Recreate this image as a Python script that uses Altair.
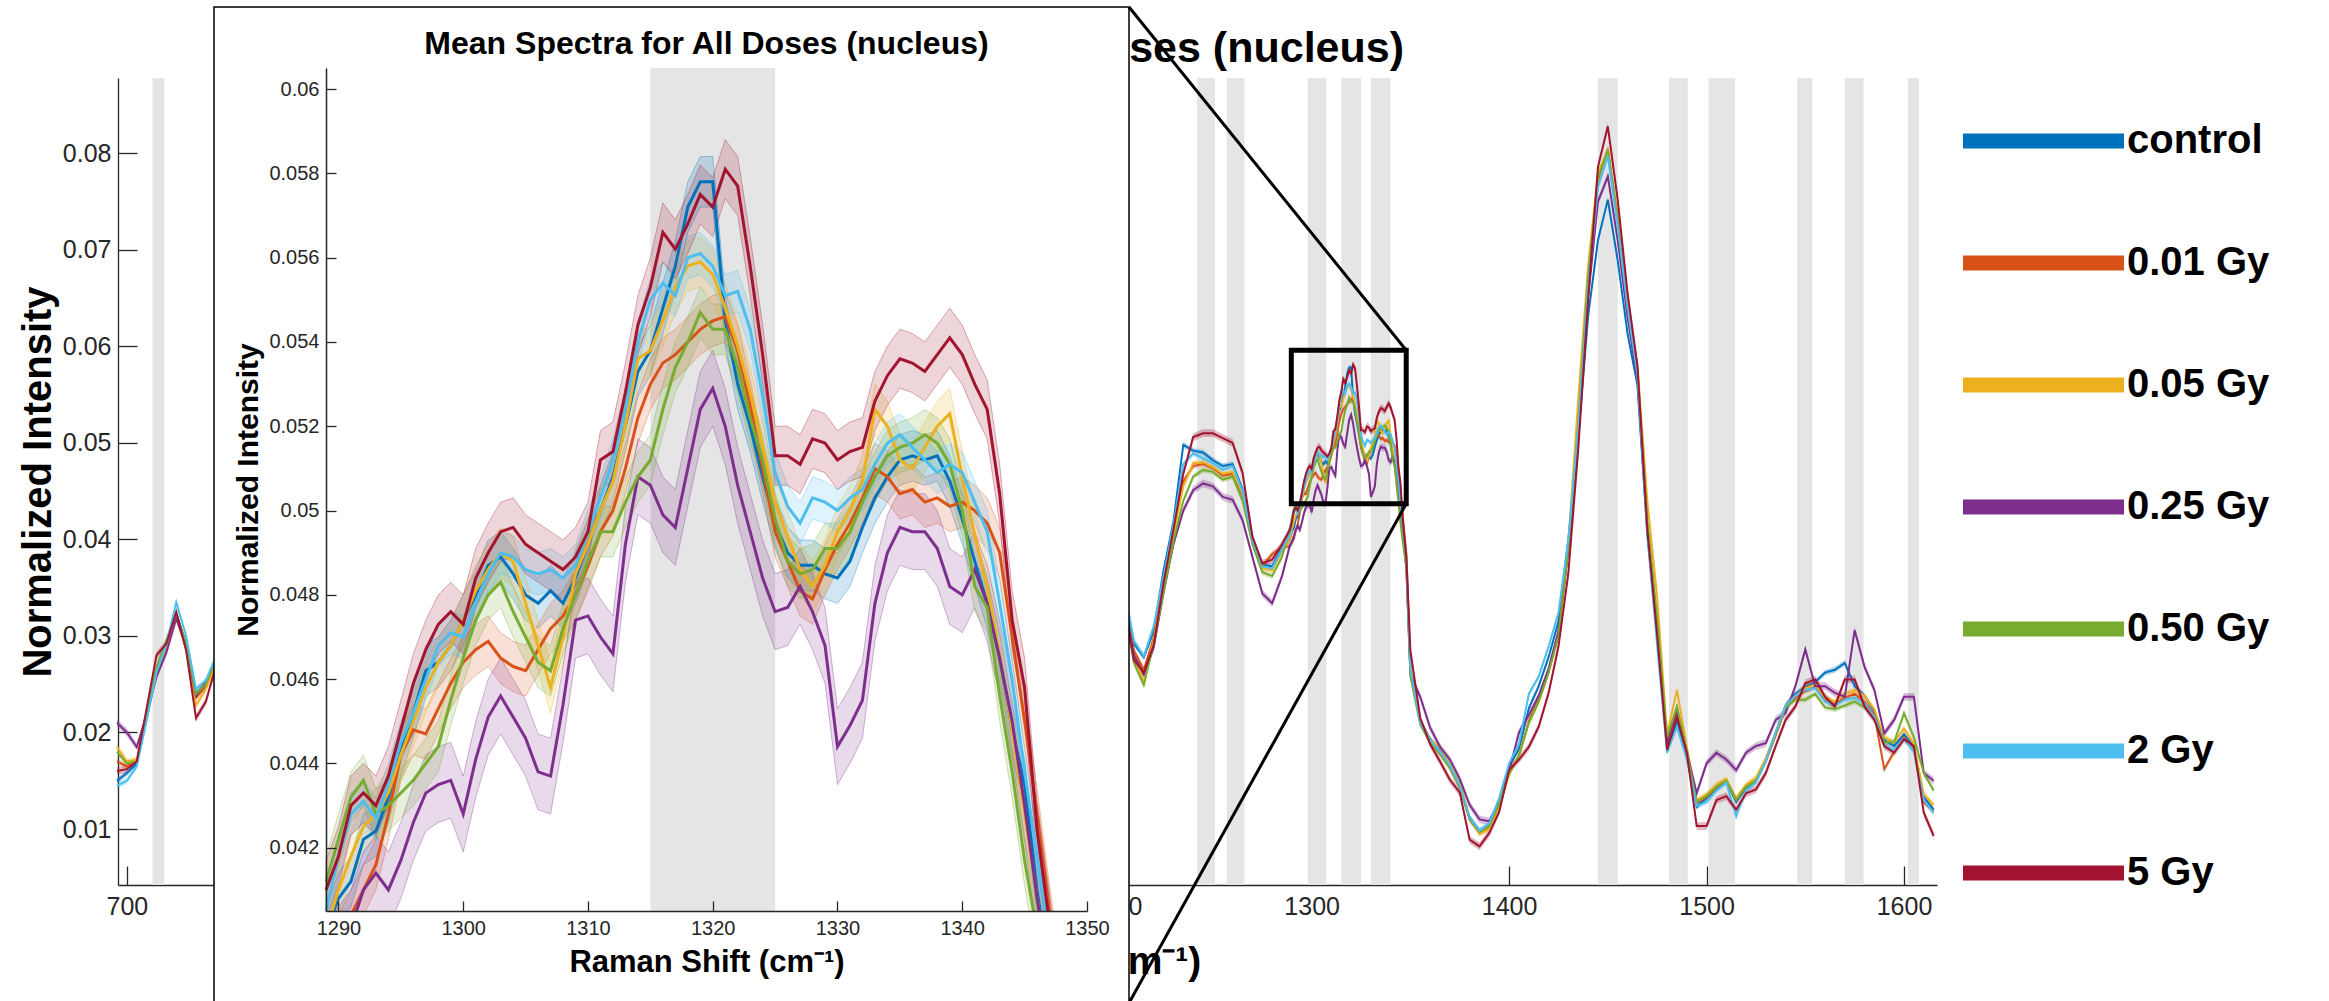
import altair as alt
import pandas as pd

FONT = "Liberation Sans"

SERIES = ["control", "0.01 Gy", "0.05 Gy", "0.25 Gy", "0.50 Gy", "2 Gy", "5 Gy"]
KEYS = ["0", "1", "2", "3", "4", "5", "6"]
COLORS = ["#0072BD", "#D95319", "#EDB120", "#7E2F8E", "#77AC30", "#4DBEEE", "#A2142F"]
MAIN_SPREAD = [0.0003, 0.0003, 0.0003, 0.0004, 0.0003, 0.0003, 0.0004]
INSET_SPREAD = [0.0006, 0.0006, 0.0006, 0.0009, 0.0006, 0.0005, 0.0007]

# Raman shift sampling of each section
X_LEFT = [695, 700, 705, 710, 715, 720, 725, 730, 735, 740, 745]
X_MID = [1205, 1210, 1215, 1220, 1225, 1230, 1235, 1240, 1245, 1250, 1255, 1260, 1265, 1270, 1275, 1280, 1285]
X_ZOOM = list(range(1289, 1349))
X_RIGHT = list(range(1350, 1620, 5))

LEFT = {
    "control": [0.0150, 0.0158, 0.0168, 0.0215, 0.0262, 0.0290, 0.0323, 0.0292, 0.0240, 0.0250, 0.0274],
    "0.01 Gy": [0.0170, 0.0165, 0.0170, 0.0218, 0.0265, 0.0288, 0.0322, 0.0290, 0.0236, 0.0248, 0.0272],
    "0.05 Gy": [0.0185, 0.0170, 0.0172, 0.0220, 0.0262, 0.0288, 0.0320, 0.0286, 0.0228, 0.0245, 0.0270],
    "0.25 Gy": [0.0210, 0.0200, 0.0185, 0.0218, 0.0258, 0.0283, 0.0318, 0.0290, 0.0238, 0.0252, 0.0275],
    "0.50 Gy": [0.0180, 0.0168, 0.0170, 0.0220, 0.0268, 0.0296, 0.0324, 0.0292, 0.0240, 0.0250, 0.0276],
    "2 Gy":    [0.0145, 0.0150, 0.0165, 0.0212, 0.0262, 0.0292, 0.0335, 0.0300, 0.0245, 0.0254, 0.0278],
    "5 Gy":    [0.0160, 0.0162, 0.0170, 0.0225, 0.0280, 0.0292, 0.0325, 0.0285, 0.0215, 0.0232, 0.0268],
}

MID = {
    "control": [0.0348, 0.0292, 0.0278, 0.0305, 0.0368, 0.0418, 0.0498, 0.0492, 0.0490, 0.0482, 0.0476, 0.0478, 0.0452, 0.0402, 0.0374, 0.0372, 0.0392],
    "0.01 Gy": [0.0338, 0.0285, 0.0265, 0.0298, 0.0356, 0.0408, 0.0460, 0.0476, 0.0478, 0.0474, 0.0466, 0.0468, 0.0446, 0.0400, 0.0372, 0.0385, 0.0392],
    "0.05 Gy": [0.0335, 0.0280, 0.0252, 0.0295, 0.0352, 0.0405, 0.0455, 0.0479, 0.0480, 0.0475, 0.0468, 0.0470, 0.0448, 0.0398, 0.0370, 0.0368, 0.0388],
    "0.25 Gy": [0.0338, 0.0280, 0.0260, 0.0288, 0.0345, 0.0395, 0.0430, 0.0451, 0.0458, 0.0455, 0.0444, 0.0441, 0.0420, 0.0382, 0.0344, 0.0334, 0.0362],
    "0.50 Gy": [0.0330, 0.0272, 0.0249, 0.0292, 0.0345, 0.0398, 0.0440, 0.0465, 0.0472, 0.0470, 0.0462, 0.0465, 0.0440, 0.0395, 0.0366, 0.0362, 0.0382],
    "2 Gy":    [0.0350, 0.0295, 0.0279, 0.0310, 0.0362, 0.0415, 0.0478, 0.0489, 0.0484, 0.0479, 0.0472, 0.0476, 0.0450, 0.0400, 0.0372, 0.0370, 0.0390],
    "5 Gy":    [0.0335, 0.0275, 0.0262, 0.0290, 0.0355, 0.0410, 0.0468, 0.0506, 0.0510, 0.0510, 0.0505, 0.0500, 0.0469, 0.0403, 0.0375, 0.0379, 0.0395],
}

ZOOM = {
    "control": [0.0400, 0.0408, 0.0412, 0.0422, 0.0424, 0.0432, 0.0443, 0.0452, 0.0462, 0.0464,
                0.0468, 0.0474, 0.0480, 0.0487, 0.0489, 0.0485, 0.0480, 0.0478, 0.0481, 0.0478,
                0.0484, 0.0492, 0.0500, 0.0508, 0.0520, 0.0533, 0.0538, 0.0548, 0.0558, 0.0572,
                0.0578, 0.0578, 0.0545, 0.0530, 0.0520, 0.0508, 0.0497, 0.0490, 0.0487, 0.0487,
                0.0485, 0.0484, 0.0488, 0.0496, 0.0503, 0.0508, 0.0512, 0.0513, 0.0512, 0.0513,
                0.0507, 0.0498, 0.0488, 0.0478, 0.0465, 0.0448, 0.0435, 0.0410, 0.0390, 0.0372],
    "0.01 Gy": [0.0393, 0.0398, 0.0404, 0.0410, 0.0416, 0.0428, 0.0442, 0.0448, 0.0447, 0.0453,
                0.0459, 0.0464, 0.0467, 0.0469, 0.0465, 0.0463, 0.0462, 0.0467, 0.0472, 0.0475,
                0.0480, 0.0487, 0.0495, 0.0500, 0.0510, 0.0522, 0.0530, 0.0535, 0.0537, 0.0540,
                0.0543, 0.0545, 0.0546, 0.0538, 0.0525, 0.0510, 0.0495, 0.0488, 0.0481, 0.0479,
                0.0486, 0.0492, 0.0497, 0.0503, 0.0510, 0.0508, 0.0504, 0.0505, 0.0502, 0.0503,
                0.0501, 0.0502, 0.0500, 0.0497, 0.0490, 0.0470, 0.0450, 0.0428, 0.0405, 0.0385],
    "0.05 Gy": [0.0400, 0.0410, 0.0418, 0.0425, 0.0428, 0.0433, 0.0442, 0.0450, 0.0458, 0.0464,
                0.0468, 0.0474, 0.0481, 0.0486, 0.0490, 0.0488, 0.0478, 0.0468, 0.0458, 0.0470,
                0.0485, 0.0492, 0.0500, 0.0507, 0.0520, 0.0536, 0.0538, 0.0545, 0.0553, 0.0558,
                0.0559, 0.0556, 0.0548, 0.0539, 0.0528, 0.0515, 0.0502, 0.0494, 0.0486, 0.0482,
                0.0487, 0.0495, 0.0500, 0.0507, 0.0524, 0.0520, 0.0512, 0.0510, 0.0515, 0.0520,
                0.0523, 0.0508, 0.0494, 0.0482, 0.0466, 0.0448, 0.0428, 0.0408, 0.0390, 0.0372],
    "0.25 Gy": [0.0394, 0.0397, 0.0401, 0.0410, 0.0414, 0.0410, 0.0417, 0.0426, 0.0433, 0.0435,
                0.0436, 0.0428, 0.0441, 0.0451, 0.0456, 0.0451, 0.0446, 0.0438, 0.0437, 0.0454,
                0.0474, 0.0475, 0.0470, 0.0466, 0.0492, 0.0508, 0.0506, 0.0499, 0.0496, 0.0510,
                0.0524, 0.0529, 0.0520, 0.0506, 0.0495, 0.0484, 0.0476, 0.0477, 0.0482, 0.0476,
                0.0468, 0.0444, 0.0449, 0.0455, 0.0478, 0.0490, 0.0496, 0.0495, 0.0495, 0.0491,
                0.0482, 0.0480, 0.0486, 0.0478, 0.0465, 0.0450, 0.0430, 0.0408, 0.0390, 0.0370],
    "0.50 Gy": [0.0412, 0.0422, 0.0432, 0.0436, 0.0428, 0.0430, 0.0433, 0.0436, 0.0440, 0.0444,
                0.0455, 0.0465, 0.0474, 0.0480, 0.0483, 0.0476, 0.0470, 0.0464, 0.0462, 0.0472,
                0.0480, 0.0488, 0.0495, 0.0495, 0.0502, 0.0508, 0.0512, 0.0524, 0.0534, 0.0540,
                0.0547, 0.0543, 0.0543, 0.0534, 0.0522, 0.0512, 0.0498, 0.0488, 0.0485, 0.0486,
                0.0491, 0.0491, 0.0495, 0.0502, 0.0508, 0.0513, 0.0515, 0.0516, 0.0518, 0.0516,
                0.0511, 0.0500, 0.0482, 0.0477, 0.0456, 0.0438, 0.0417, 0.0400, 0.0385, 0.0370],
    "2 Gy":    [0.0405, 0.0418, 0.0428, 0.0431, 0.0427, 0.0435, 0.0445, 0.0452, 0.0460, 0.0468,
                0.0471, 0.0470, 0.0478, 0.0485, 0.0490, 0.0489, 0.0486, 0.0485, 0.0486, 0.0484,
                0.0487, 0.0495, 0.0503, 0.0512, 0.0524, 0.0540, 0.0550, 0.0554, 0.0551, 0.0560,
                0.0561, 0.0558, 0.0551, 0.0552, 0.0543, 0.0527, 0.0509, 0.0501, 0.0497, 0.0503,
                0.0502, 0.0500, 0.0503, 0.0505, 0.0511, 0.0516, 0.0518, 0.0515, 0.0512, 0.0509,
                0.0511, 0.0509, 0.0502, 0.0495, 0.0478, 0.0460, 0.0438, 0.0418, 0.0398, 0.0380],
    "5 Gy":    [0.0410, 0.0418, 0.0430, 0.0433, 0.0430, 0.0437, 0.0448, 0.0459, 0.0467, 0.0473,
                0.0476, 0.0473, 0.0484, 0.0490, 0.0495, 0.0496, 0.0492, 0.0490, 0.0488, 0.0486,
                0.0489, 0.0495, 0.0512, 0.0514, 0.0528, 0.0544, 0.0553, 0.0566, 0.0562, 0.0568,
                0.0575, 0.0572, 0.0581, 0.0577, 0.0558, 0.0537, 0.0513, 0.0513, 0.0511, 0.0517,
                0.0516, 0.0512, 0.0514, 0.0515, 0.0526, 0.0532, 0.0536, 0.0535, 0.0533, 0.0537,
                0.0541, 0.0537, 0.0530, 0.0524, 0.0504, 0.0474, 0.0458, 0.0424, 0.0402, 0.0380],
}

RIGHT = {
    "control": [0.0265, 0.0212, 0.0193, 0.0180, 0.0166, 0.0146, 0.0112, 0.0098, 0.0104, 0.0130,
                0.0165, 0.0183, 0.0225, 0.0248, 0.0278, 0.0315, 0.0400, 0.0505, 0.0631, 0.0710,
                0.0752, 0.0689, 0.0613, 0.0560, 0.0405, 0.0300, 0.0185, 0.0210, 0.0176, 0.0123,
                0.0132, 0.0142, 0.0150, 0.0128, 0.0143, 0.0150, 0.0172, 0.0200, 0.0228, 0.0240,
                0.0247, 0.0252, 0.0262, 0.0265, 0.0272, 0.0248, 0.0238, 0.0222, 0.0192, 0.0186,
                0.0198, 0.0185, 0.0133, 0.0120],
    "0.01 Gy": [0.0268, 0.0210, 0.0190, 0.0178, 0.0164, 0.0143, 0.0110, 0.0096, 0.0102, 0.0126,
                0.0158, 0.0176, 0.0212, 0.0234, 0.0264, 0.0302, 0.0388, 0.0515, 0.0668, 0.0772,
                0.0805, 0.0732, 0.0642, 0.0574, 0.0415, 0.0312, 0.0190, 0.0222, 0.0178, 0.0127,
                0.0133, 0.0143, 0.0150, 0.0130, 0.0144, 0.0150, 0.0170, 0.0197, 0.0225, 0.0236,
                0.0243, 0.0247, 0.0233, 0.0229, 0.0236, 0.0240, 0.0232, 0.0218, 0.0162, 0.0180,
                0.0195, 0.0182, 0.0128, 0.0118],
    "0.05 Gy": [0.0270, 0.0212, 0.0192, 0.0185, 0.0167, 0.0150, 0.0112, 0.0095, 0.0100, 0.0124,
                0.0156, 0.0177, 0.0210, 0.0232, 0.0262, 0.0300, 0.0395, 0.0545, 0.0683, 0.0780,
                0.0803, 0.0735, 0.0645, 0.0580, 0.0440, 0.0340, 0.0198, 0.0244, 0.0185, 0.0130,
                0.0136, 0.0146, 0.0152, 0.0132, 0.0146, 0.0153, 0.0173, 0.0200, 0.0228, 0.0238,
                0.0246, 0.0250, 0.0236, 0.0232, 0.0240, 0.0244, 0.0238, 0.0224, 0.0195, 0.0190,
                0.0204, 0.0188, 0.0136, 0.0125],
    "0.25 Gy": [0.0260, 0.0237, 0.0205, 0.0185, 0.0172, 0.0152, 0.0125, 0.0110, 0.0108, 0.0128,
                0.0160, 0.0200, 0.0218, 0.0238, 0.0266, 0.0305, 0.0390, 0.0505, 0.0650, 0.0750,
                0.0776, 0.0710, 0.0630, 0.0565, 0.0410, 0.0305, 0.0190, 0.0225, 0.0180, 0.0137,
                0.0168, 0.0179, 0.0172, 0.0161, 0.0179, 0.0186, 0.0189, 0.0213, 0.0220, 0.0248,
                0.0286, 0.0248, 0.0248, 0.0241, 0.0237, 0.0306, 0.0268, 0.0244, 0.0199, 0.0213,
                0.0237, 0.0237, 0.0158, 0.0150],
    "0.50 Gy": [0.0258, 0.0208, 0.0190, 0.0178, 0.0163, 0.0143, 0.0110, 0.0097, 0.0103, 0.0126,
                0.0158, 0.0176, 0.0210, 0.0232, 0.0262, 0.0300, 0.0392, 0.0520, 0.0672, 0.0775,
                0.0803, 0.0732, 0.0642, 0.0575, 0.0420, 0.0318, 0.0195, 0.0227, 0.0180, 0.0128,
                0.0134, 0.0144, 0.0150, 0.0130, 0.0144, 0.0150, 0.0170, 0.0198, 0.0226, 0.0234,
                0.0234, 0.0240, 0.0226, 0.0224, 0.0228, 0.0232, 0.0226, 0.0215, 0.0190, 0.0190,
                0.0220, 0.0195, 0.0158, 0.0140],
    "2 Gy":    [0.0265, 0.0210, 0.0192, 0.0180, 0.0166, 0.0145, 0.0112, 0.0098, 0.0106, 0.0132,
                0.0168, 0.0188, 0.0240, 0.0258, 0.0289, 0.0324, 0.0400, 0.0515, 0.0660, 0.0765,
                0.0797, 0.0724, 0.0640, 0.0570, 0.0405, 0.0290, 0.0179, 0.0206, 0.0172, 0.0124,
                0.0128, 0.0140, 0.0148, 0.0113, 0.0140, 0.0148, 0.0170, 0.0200, 0.0228, 0.0238,
                0.0244, 0.0246, 0.0232, 0.0228, 0.0234, 0.0236, 0.0230, 0.0216, 0.0186, 0.0182,
                0.0194, 0.0180, 0.0130, 0.0117],
    "5 Gy":    [0.0285, 0.0215, 0.0188, 0.0170, 0.0151, 0.0138, 0.0089, 0.0082, 0.0096, 0.0118,
                0.0161, 0.0172, 0.0185, 0.0206, 0.0241, 0.0289, 0.0365, 0.0493, 0.0648, 0.0786,
                0.0828, 0.0752, 0.0655, 0.0580, 0.0410, 0.0300, 0.0182, 0.0216, 0.0179, 0.0103,
                0.0103, 0.0130, 0.0134, 0.0120, 0.0137, 0.0141, 0.0158, 0.0186, 0.0213, 0.0227,
                0.0251, 0.0255, 0.0237, 0.0227, 0.0255, 0.0255, 0.0227, 0.0213, 0.0186, 0.0179,
                0.0193, 0.0186, 0.0117, 0.0093],
}

# highlighted (grey) wavenumber ranges
BAND_LO = [713, 1242, 1257, 1298, 1315, 1330, 1445, 1481, 1501, 1546, 1570, 1602]
BAND_HI = [719, 1251, 1266, 1307.5, 1325, 1340, 1455, 1490.5, 1514.5, 1553.5, 1579.5, 1607.5]
INSET_BAND = [1315, 1325]
ZOOM_BOX_X = [1289.7, 1347.9]
ZOOM_BOX_Y = [0.0437, 0.0596]

MAIN_X_DOMAIN = [695.5, 1616.7]
MAIN_Y_DOMAIN = [0.0042, 0.0878]
INSET_X_DOMAIN = [1289, 1350]
INSET_Y_DOMAIN = [0.0405, 0.0605]
MAIN_XTICKS = [700, 800, 900, 1000, 1100, 1200, 1300, 1400, 1500, 1600]
MAIN_YTICKS = [0.01, 0.02, 0.03, 0.04, 0.05, 0.06, 0.07, 0.08]
INSET_XTICKS = [1290, 1300, 1310, 1320, 1330, 1340, 1350]
INSET_YTICKS = [0.042, 0.044, 0.046, 0.048, 0.05, 0.052, 0.054, 0.056, 0.058, 0.06]

TITLE = "Mean Spectra for All Doses (nucleus)"
XTITLE = "Raman Shift (cm\u207b\u00b9)"
YTITLE = "Normalized Intensity"

# ---------------------------------------------------------------- tables
main_rows, inset_rows = [], []
for i, s in enumerate(SERIES):
    xs = X_LEFT + X_MID + X_ZOOM + X_RIGHT
    ys = LEFT[s] + MID[s] + ZOOM[s] + RIGHT[s]
    assert len(xs) == len(ys), (s, len(LEFT[s]), len(MID[s]), len(ZOOM[s]), len(RIGHT[s]))
    for x, y in zip(xs, ys):
        main_rows.append({"x": x, "y": y, "lo": y - MAIN_SPREAD[i], "hi": y + MAIN_SPREAD[i], "k": KEYS[i]})
    for x, y in zip(X_ZOOM, ZOOM[s]):
        inset_rows.append({"x": x, "y": y, "lo": y - INSET_SPREAD[i], "hi": y + INSET_SPREAD[i], "k": KEYS[i]})
main_df = pd.DataFrame(main_rows)
inset_df = pd.DataFrame(inset_rows)
band_df = pd.DataFrame({"b0": BAND_LO, "b1": BAND_HI,
                        "v0": [MAIN_Y_DOMAIN[0]] * len(BAND_LO), "v1": [MAIN_Y_DOMAIN[1]] * len(BAND_LO)})
inset_band_df = pd.DataFrame({"b0": [INSET_BAND[0]], "b1": [INSET_BAND[1]],
                              "v0": [INSET_Y_DOMAIN[0]], "v1": [INSET_Y_DOMAIN[1]]})
box_df = pd.DataFrame({"x0": [ZOOM_BOX_X[0]], "x1": [ZOOM_BOX_X[1]], "y0": [ZOOM_BOX_Y[0]], "y1": [ZOOM_BOX_Y[1]]})
corner_top = pd.DataFrame({"cx": [ZOOM_BOX_X[1]], "cy": [ZOOM_BOX_Y[1]]})
corner_bot = pd.DataFrame({"cx": [ZOOM_BOX_X[1]], "cy": [ZOOM_BOX_Y[0]]})
legend_df = pd.DataFrame({"k": KEYS, "label": SERIES})
one = pd.DataFrame({"a": [0]})

# ---------------------------------------------------------------- layout (px, relative to main plot)
W, H = 1819, 807
PAD_L, PAD_T = 118, 78
INSET_RANGE_X = [208, 969]
INSET_RANGE_Y = [833, -10]
FRAME = dict(x0=96, x1=1011, y0=-71, y1=945)

xs_main = alt.Scale(domain=MAIN_X_DOMAIN, range=[0, W], nice=False, zero=False)
ys_main = alt.Scale(domain=MAIN_Y_DOMAIN, range=[H, 0], nice=False, zero=False)
xs_in = alt.Scale(domain=INSET_X_DOMAIN, range=INSET_RANGE_X, nice=False, zero=False)
ys_in = alt.Scale(domain=INSET_Y_DOMAIN, range=INSET_RANGE_Y, nice=False, zero=False)
col = alt.Scale(domain=KEYS, range=COLORS)
AX = "#262626"

main_x_lab = alt.Axis(orient="bottom", values=MAIN_XTICKS, format="d", ticks=False, tickSize=0,
                      labelFontSize=25, labelColor=AX, labelPadding=9, labelFlush=False, labelOverlap=False,
                      domainColor=AX, domainWidth=1.3, grid=False, title=XTITLE, titleFontSize=39,
                      titleFontWeight="bold", titleColor="black", titlePadding=23, zindex=0)
main_y_lab = alt.Axis(orient="left", values=MAIN_YTICKS, format=".2f", ticks=False, tickSize=0,
                      labelFontSize=25, labelColor=AX, labelPadding=7, labelFlush=False, labelOverlap=False,
                      domainColor=AX, domainWidth=1.3, grid=False, title=YTITLE, titleFontSize=40,
                      titleFontWeight="bold", titleColor="black", titlePadding=4, zindex=0)
main_x_tick = alt.Axis(orient="bottom", offset=-19, values=MAIN_XTICKS, labels=False, domain=False,
                       tickSize=19, tickColor=AX, tickWidth=1.3, grid=False, title=None, zindex=0)
main_y_tick = alt.Axis(orient="left", offset=-19, values=MAIN_YTICKS, labels=False, domain=False,
                       tickSize=19, tickColor=AX, tickWidth=1.3, grid=False, title=None, zindex=0)

in_x_lab = alt.Axis(orient="bottom", offset=INSET_RANGE_Y[0] - H, values=INSET_XTICKS, format="d",
                    ticks=False, tickSize=0, labelFontSize=20, labelColor=AX, labelPadding=7,
                    labelFlush=False, labelOverlap=False, domainColor=AX, domainWidth=1.5, grid=False,
                    title=XTITLE, titleFontSize=31, titleFontWeight="bold", titleColor="black",
                    titlePadding=9, zindex=1)
in_y_lab = alt.Axis(orient="left", offset=-INSET_RANGE_X[0], values=INSET_YTICKS, format=".3~f",
                    ticks=False, tickSize=0, labelFontSize=20, labelColor=AX, labelPadding=7,
                    labelFlush=False, labelOverlap=False, domainColor=AX, domainWidth=1.5, grid=False,
                    title=YTITLE, titleFontSize=30, titleFontWeight="bold", titleColor="black",
                    titlePadding=5, zindex=1)
in_x_tick = alt.Axis(orient="bottom", offset=INSET_RANGE_Y[0] - H - 10, values=INSET_XTICKS, labels=False,
                     domain=False, tickSize=10, tickColor=AX, tickWidth=1.3, grid=False, title=None, zindex=1)
in_y_tick = alt.Axis(orient="left", offset=-INSET_RANGE_X[0] - 10, values=INSET_YTICKS, labels=False,
                     domain=False, tickSize=10, tickColor=AX, tickWidth=1.3, grid=False, title=None, zindex=1)

# ---------------------------------------------------------------- main chart
main_bands = alt.Chart(band_df).mark_rect(color="#E5E5E5").encode(
    x=alt.X("b0:Q", scale=xs_main, axis=main_x_tick), x2="b1:Q",
    y=alt.Y("v0:Q", scale=ys_main, axis=main_y_tick), y2="v1:Q")

main_areas = alt.Chart(main_df).mark_area(opacity=0.3).encode(
    x=alt.X("x:Q", scale=xs_main, axis=None),
    y=alt.Y("lo:Q", scale=ys_main, axis=None), y2="hi:Q",
    color=alt.Color("k:N", scale=col, legend=None))

main_lines = alt.Chart(main_df).mark_line(strokeWidth=2).encode(
    x=alt.X("x:Q", scale=xs_main, axis=main_x_lab),
    y=alt.Y("y:Q", scale=ys_main, axis=main_y_lab),
    color=alt.Color("k:N", scale=col, legend=None))

zoom_box = alt.Chart(box_df).mark_rect(fillOpacity=0, stroke="black", strokeWidth=5).encode(
    x=alt.X("x0:Q", scale=xs_main, axis=None), x2="x1:Q",
    y=alt.Y("y0:Q", scale=ys_main, axis=None), y2="y1:Q")

main_title = alt.Chart(one).mark_text(font=FONT, fontSize=43, fontWeight="bold", align="right",
                                      baseline="middle", color="black").encode(
    x=alt.value(1286), y=alt.value(-29), text=alt.value(TITLE))

# ---------------------------------------------------------------- inset
frame = alt.Chart(one).mark_rect(fill="white", stroke="black", strokeWidth=1.5).encode(
    x=alt.value(FRAME["x0"]), x2=alt.value(FRAME["x1"]), y=alt.value(FRAME["y0"]), y2=alt.value(FRAME["y1"]))

conn_top = alt.Chart(corner_top).mark_rule(color="black", strokeWidth=3).encode(
    x=alt.X("cx:Q", scale=xs_main, axis=None), y=alt.Y("cy:Q", scale=ys_main, axis=None),
    x2=alt.value(FRAME["x1"]), y2=alt.value(FRAME["y0"]))
conn_bot = alt.Chart(corner_bot).mark_rule(color="black", strokeWidth=3).encode(
    x=alt.X("cx:Q", scale=xs_main, axis=None), y=alt.Y("cy:Q", scale=ys_main, axis=None),
    x2=alt.value(FRAME["x1"]), y2=alt.value(925))

inset_band = alt.Chart(inset_band_df).mark_rect(color="#E5E5E5").encode(
    x=alt.X("b0:Q", scale=xs_in, axis=in_x_tick), x2="b1:Q",
    y=alt.Y("v0:Q", scale=ys_in, axis=in_y_tick), y2="v1:Q")

inset_areas = alt.Chart(inset_df).mark_area(fillOpacity=0.18, strokeOpacity=0.35, strokeWidth=1).encode(
    x=alt.X("x:Q", scale=xs_in, axis=None),
    y=alt.Y("lo:Q", scale=ys_in, axis=None), y2="hi:Q",
    color=alt.Color("k:N", scale=col, legend=None),
    stroke=alt.Stroke("k:N", scale=col, legend=None))

inset_lines = alt.Chart(inset_df).mark_line(strokeWidth=3).encode(
    x=alt.X("x:Q", scale=xs_in, axis=in_x_lab),
    y=alt.Y("y:Q", scale=ys_in, axis=in_y_lab),
    color=alt.Color("k:N", scale=col, legend=None))

mask = alt.Chart(one).mark_rect(fill="white").encode(
    x=alt.value(FRAME["x0"] + 1), x2=alt.value(FRAME["x1"] - 1),
    y=alt.value(INSET_RANGE_Y[0] + 1), y2=alt.value(FRAME["y1"] - 2))

inset_title = alt.Chart(one).mark_text(font=FONT, fontSize=32, fontWeight="bold", align="center",
                                       baseline="middle", color="black").encode(
    x=alt.value((INSET_RANGE_X[0] + INSET_RANGE_X[1]) / 2), y=alt.value(-34), text=alt.value(TITLE))

# ---------------------------------------------------------------- legend
leg_y = alt.Y("k:N", scale=alt.Scale(type="point", domain=KEYS, range=[63, 795], padding=0), axis=None)
legend_lines = alt.Chart(legend_df).mark_rule(strokeWidth=15).encode(
    x=alt.value(1845), x2=alt.value(2006), y=leg_y,
    color=alt.Color("k:N", scale=col, legend=None))
legend_text = alt.Chart(legend_df).mark_text(font=FONT, fontSize=40, fontWeight="bold", align="left",
                                             baseline="middle", color="black").encode(
    x=alt.value(2009), y=leg_y, text="label:N")

chart = alt.layer(
    main_bands, main_areas, main_lines, zoom_box, main_title,
    frame, conn_top, conn_bot,
    inset_band, inset_areas, inset_lines, mask, inset_title,
    legend_lines, legend_text,
).resolve_scale(
    x="independent", y="independent", color="independent", stroke="independent"
).properties(
    width=W, height=H,
    padding={"left": PAD_L, "top": PAD_T, "right": 2329 - PAD_L - W, "bottom": 1001 - PAD_T - H},
    autosize=alt.AutoSizeParams(type="none"),
    background="white",
).configure(font=FONT).configure_view(strokeWidth=0)

chart.save("out.html", embed_options={"renderer": "svg", "actions": False})
